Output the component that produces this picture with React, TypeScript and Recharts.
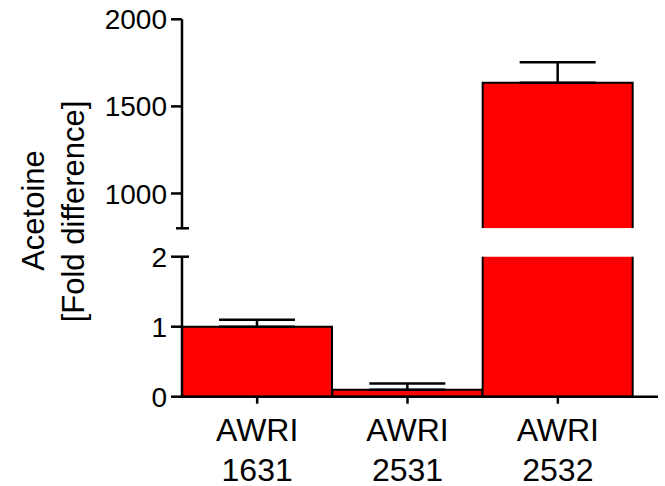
import React from 'react';
import { BarChart, Bar, XAxis, YAxis, ErrorBar } from 'recharts';

// ---- data ----
const categories = ['AWRI 1631', 'AWRI 2531', 'AWRI 2532'];
const means = [1.0, 0.1, 1636];
const errors = [0.1, 0.09, 117];
const upperTicks = [800, 1000, 1500, 2000]; // 800 = lower end of upper segment (break)
const lowerTicks = [0, 1, 2];
const UPPER_DOMAIN: [number, number] = [800, 2000];
const LOWER_DOMAIN: [number, number] = [0, 2];
const yLabelLines = ['Acetoine', '[Fold difference]'];

const W = 665;
const H = 486;
const AXIS_X = 182;
const FONT = "'Liberation Sans', Arial, Helvetica, sans-serif";
const RED = '#ff0000';

const upperData = categories.map((name, i) => ({
  name,
  mean: means[i],
  err: means[i] >= UPPER_DOMAIN[0] ? [0, errors[i]] : null,
}));
const lowerData = categories.map((name, i) => ({
  name,
  mean: means[i],
  err: means[i] <= LOWER_DOMAIN[1] ? [0, errors[i]] : null,
}));

const makeShape = (segment: 'upper' | 'lower') => (props: any) => {
  const { x, y, width, height, payload } = props;
  if (x == null || y == null || !isFinite(y) || !isFinite(height)) return <g />;
  if (segment === 'upper' && payload && payload.mean < UPPER_DOMAIN[0]) return <g />;
  const top = Math.min(y, y + height);
  const bottom = top + Math.abs(height);
  const broken = payload && payload.mean > LOWER_DOMAIN[1];
  let d: string;
  if (segment === 'upper') {
    d = `M${x},${bottom}L${x},${top}L${x + width},${top}L${x + width},${bottom}`;
  } else if (broken) {
    d = `M${x},${top}L${x},${bottom}L${x + width},${bottom}L${x + width},${top}`;
  } else {
    d = `M${x},${top}L${x + width},${top}L${x + width},${bottom}L${x},${bottom}Z`;
  }
  return (
    <g>
      <rect x={x} y={top} width={width} height={bottom - top} fill={RED} />
      <path d={d} fill="none" stroke="#000" strokeWidth={2} />
    </g>
  );
};

const makeYTick = (breakLow: number | null, breakHigh: number | null) => (props: any) => {
  const { y, payload } = props;
  const v = payload.value;
  if (breakLow !== null && v === breakLow) {
    return <line x1={AXIS_X - 6} x2={AXIS_X + 7} y1={y} y2={y} stroke="#000" strokeWidth={2.5} />;
  }
  const ext = breakHigh !== null && v === breakHigh ? 7 : 0;
  return (
    <g>
      <line x1={AXIS_X - 11} x2={AXIS_X + ext} y1={y} y2={y} stroke="#000" strokeWidth={2.5} />
      <text
        x={AXIS_X - 15}
        y={y}
        dy="0.36em"
        textAnchor="end"
        fontSize={28}
        fontFamily={FONT}
        fill="#000"
      >
        {v}
      </text>
    </g>
  );
};

const XTick = (props: any) => {
  const { x, y, payload } = props;
  const parts = String(payload.value).split(' ');
  return (
    <g>
      <text x={x} y={y + 37} textAnchor="middle" fontSize={32} fontFamily={FONT} fill="#000">
        {parts[0]}
      </text>
      <text x={x} y={y + 77} textAnchor="middle" fontSize={32} fontFamily={FONT} fill="#000">
        {parts[1]}
      </text>
    </g>
  );
};

const YLabel = () => (
  <g>
    <text
      transform="translate(43.5, 210.5) rotate(-90)"
      textAnchor="middle"
      fontSize={31}
      fontFamily={FONT}
      fill="#000"
    >
      {yLabelLines[0]}
    </text>
    <text
      transform="translate(83.5, 211.5) rotate(-90)"
      textAnchor="middle"
      fontSize={31}
      fontFamily={FONT}
      fill="#000"
    >
      {yLabelLines[1]}
    </text>
  </g>
);

const axisStyle = { stroke: '#000', strokeWidth: 2.5 };

export default function App() {
  return (
    <div style={{ position: 'absolute', left: 0, top: 0, width: W, height: H, background: '#fff' }}>
      <div style={{ position: 'absolute', left: 0, top: 0 }}>
        <BarChart
          width={W}
          height={H}
          data={upperData}
          margin={{ top: 19.3, right: 7, bottom: 257.7, left: 0 }}
          barCategoryGap={0}
          barGap={0}
        >
          <XAxis dataKey="name" hide padding={{ left: 0, right: 25 }} />
          <YAxis
            type="number"
            width={AXIS_X}
            domain={UPPER_DOMAIN}
            ticks={upperTicks}
            interval={0}
            allowDataOverflow
            tickLine={false}
            axisLine={axisStyle}
            tick={makeYTick(UPPER_DOMAIN[0], null)}
          />
          <Bar dataKey="mean" fill={RED} isAnimationActive={false} shape={makeShape('upper')}>
            <ErrorBar dataKey="err" direction="y" width={38} stroke="#000" strokeWidth={2.5} isAnimationActive={false} />
          </Bar>
        </BarChart>
      </div>
      <div style={{ position: 'absolute', left: 0, top: 0 }}>
        <BarChart
          width={W}
          height={H}
          data={lowerData}
          margin={{ top: 256.7, right: 7, bottom: 0, left: 0 }}
          barCategoryGap={0}
          barGap={0}
        >
          <XAxis
            dataKey="name"
            height={89.3}
            padding={{ left: 0, right: 25 }}
            tickSize={7}
            tickMargin={0}
            interval={0}
            axisLine={axisStyle}
            tickLine={axisStyle}
            tick={<XTick />}
          />
          <YAxis
            type="number"
            width={AXIS_X}
            domain={LOWER_DOMAIN}
            ticks={lowerTicks}
            interval={0}
            allowDataOverflow
            tickLine={false}
            axisLine={axisStyle}
            tick={makeYTick(null, LOWER_DOMAIN[1])}
            label={{ content: () => <YLabel /> }}
          />
          <Bar dataKey="mean" fill={RED} isAnimationActive={false} shape={makeShape('lower')}>
            <ErrorBar dataKey="err" direction="y" width={38} stroke="#000" strokeWidth={2.5} isAnimationActive={false} />
          </Bar>
        </BarChart>
      </div>
    </div>
  );
}
